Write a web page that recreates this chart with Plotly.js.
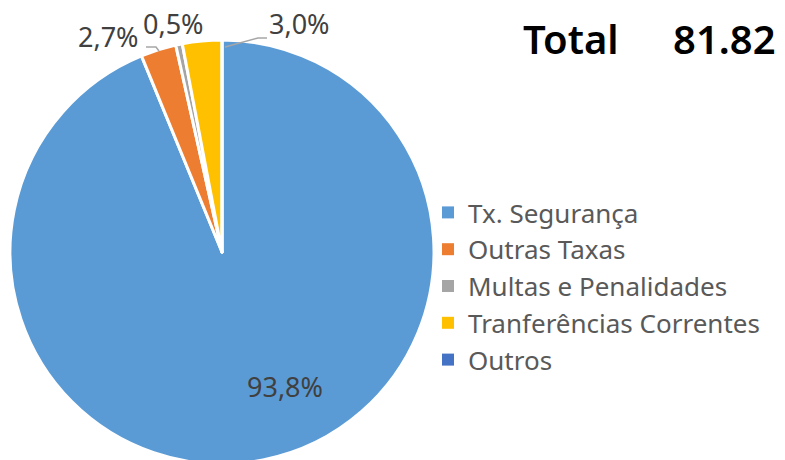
<!DOCTYPE html>
<html>
<head>
<meta charset="utf-8">
<script src="https://cdn.plot.ly/plotly-3.0.1.min.js"></script>
<style>
html,body{margin:0;padding:0;overflow:hidden;background:#fff;}
#chart{width:785px;height:470px;}
</style>
</head>
<body>
<div id="chart"></div>
<script>
// ---- data ----
const categories = ["Tx. Segurança", "Outras Taxas", "Multas e Penalidades", "Tranferências Correntes", "Outros"];
const shares = [93.8, 2.7, 0.5, 3.0, 0.0];
const totalLabel = "Total";
const totalValue = "81.82";
const colors = ["#5B9BD5", "#ED7D31", "#A5A5A5", "#FFC000", "#4472C4"];

const W = 785, H = 470;
const fmt = v => v.toFixed(1).replace('.', ',') + '%';
const px = (x, y) => ({x: x / W, y: 1 - y / H});

// label placement (pixels) per slice
const labelPos = [[285, 386], [108, 36], [173, 23], [299, 23], null];
const annotations = [];
shares.forEach((v, i) => {
  if (!labelPos[i] || v === 0) return;
  const p = px(labelPos[i][0], labelPos[i][1]);
  annotations.push({
    xref: 'paper', yref: 'paper', x: p.x, y: p.y, xanchor: 'center', yanchor: 'middle',
    text: fmt(v), showarrow: false,
    font: {family: 'Noto Sans, sans-serif', size: 27, color: '#404040'}
  });
});
const tl = px(521, 38), tv = px(778, 38);
annotations.push({xref:'paper', yref:'paper', x: tl.x, y: tl.y, xanchor:'left', yanchor:'middle',
  text: totalLabel, showarrow:false, font:{family:'Noto Sans, sans-serif', size:40, weight:600, color:'#000'}});
annotations.push({xref:'paper', yref:'paper', x: tv.x, y: tv.y, xanchor:'right', yanchor:'middle',
  text: totalValue, showarrow:false, font:{family:'Noto Sans, sans-serif', size:40, weight:600, color:'#000'}});

// leader lines
const pathOf = pts => pts.map((q, k) => { const p = px(q[0], q[1]); return (k ? 'L' : 'M') + p.x + ',' + p.y; }).join(' ');
const shapes = [
  {type:'path', xref:'paper', yref:'paper', path: pathOf([[146,47],[156,47],[159,51]]), line:{color:'#A6A6A6', width:1.5}},
  {type:'path', xref:'paper', yref:'paper', path: pathOf([[225,47],[258,38],[267,38]]), line:{color:'#A6A6A6', width:1.5}}
];

const trace = {
  type: 'pie',
  labels: categories,
  values: shares,
  sort: false,
  direction: 'clockwise',
  rotation: 0,
  textinfo: 'none',
  hoverinfo: 'label+percent',
  marker: {colors: colors, line: {color: '#FFFFFF', width: 3}},
  domain: {x: [10 / W, 434 / W], y: [6 / H, 430 / H]}
};

const layout = {
  width: W, height: H,
  margin: {l: 0, r: 0, t: 0, b: 0},
  paper_bgcolor: '#fff',
  showlegend: true,
  legend: {
    x: 428 / W, y: 1 - 189 / H, xanchor: 'left', yanchor: 'top',
    font: {family: 'Noto Sans, sans-serif', size: 26, color: '#595959'},
    bgcolor: 'rgba(0,0,0,0)', tracegroupgap: 0, itemclick: false
  },
  annotations: annotations,
  shapes: shapes
};

Plotly.newPlot('chart', [trace], layout, {displayModeBar: false, staticPlot: true}).then(gd => {
  gd.querySelectorAll('.legend .legendpoints path').forEach(p => { p.style.strokeWidth = '0px'; });
});
</script>
</body>
</html>
